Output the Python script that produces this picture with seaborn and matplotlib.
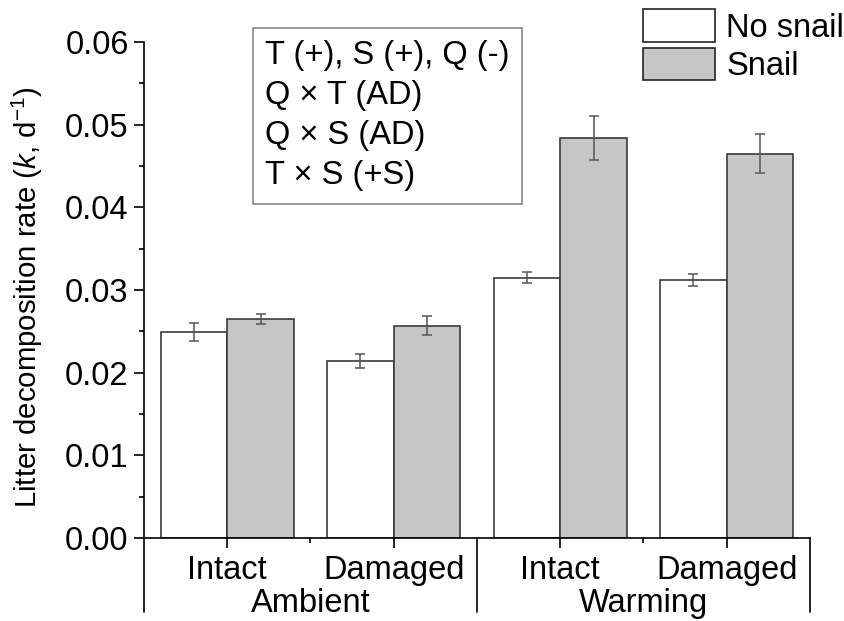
import matplotlib
matplotlib.use("Agg")
import matplotlib.pyplot as plt
import seaborn as sns
import pandas as pd
import numpy as np

# Data
conditions = ["Ambient-Intact", "Ambient-Damaged", "Warming-Intact", "Warming-Damaged"]
quality_labels = ["Intact", "Damaged", "Intact", "Damaged"]
temp_labels = ["Ambient", "Warming"]
snail_levels = ["No snail", "Snail"]
no_snail_mean = [0.0249, 0.0214, 0.0315, 0.0312]
no_snail_se = [0.0011, 0.00085, 0.0007, 0.0007]
snail_mean = [0.0265, 0.0257, 0.0484, 0.0465]
snail_se = [0.0006, 0.0012, 0.0027, 0.0024]
stats_lines = ["T (+), S (+), Q (-)", "Q \u00d7 T (AD)", "Q \u00d7 S (AD)", "T \u00d7 S (+S)"]

df = pd.DataFrame({
    "cond": conditions * 2,
    "snail": [snail_levels[0]] * 4 + [snail_levels[1]] * 4,
    "k": no_snail_mean + snail_mean,
    "se": no_snail_se + snail_se,
})

sns.set_style("ticks")
plt.rcParams["font.family"] = ["Liberation Sans", "DejaVu Sans"]
plt.rcParams["mathtext.fontset"] = "custom"
plt.rcParams["mathtext.rm"] = "Liberation Sans"
plt.rcParams["mathtext.it"] = "Liberation Sans:italic"
plt.rcParams["text.color"] = "black"
plt.rcParams["axes.labelcolor"] = "black"
plt.rcParams["xtick.color"] = "black"
plt.rcParams["ytick.color"] = "black"

FS = 23.5

fig = plt.figure(figsize=(8.44, 6.21), dpi=100)
ax = fig.add_axes([0.1706, 0.1337, 0.7891, 0.7987])

sns.barplot(data=df, x="cond", y="k", hue="snail", order=conditions,
            hue_order=snail_levels, palette=["white", "#c6c6c6"],
            edgecolor="#3a3a3a", linewidth=1.2, errorbar=None, width=0.8,
            ax=ax, legend=True)

# error bars, positioned on the drawn bars
bars = [p for p in ax.patches if p.get_height() > 0][:8]
for p, (_, row) in zip(bars, df.iterrows()):
    cx = p.get_x() + p.get_width() / 2
    ax.errorbar(cx, row["k"], yerr=row["se"], fmt="none", ecolor="#555555",
                elinewidth=1.1, capsize=3.8, capthick=1.1, zorder=5)

ax.set_xlim(-0.5, 3.5)
ax.set_ylim(0, 0.06)
ax.set_yticks(np.arange(0, 0.061, 0.01))
ax.set_yticklabels([f"{v:.2f}" for v in np.arange(0, 0.061, 0.01)])
ax.set_yticks(np.arange(0.005, 0.06, 0.01), minor=True)
ax.set_xticks(range(4))
ax.set_xticklabels(quality_labels)
ax.set_xticks([0.5, 2.5], minor=True)
ax.tick_params(axis="both", which="major", direction="out", length=7, width=1.2,
               labelsize=FS, colors="black", pad=4)
ax.tick_params(axis="x", which="major", pad=5)
ax.tick_params(axis="both", which="minor", direction="out", length=3.6, width=1.2)
for s in ["top", "right"]:
    ax.spines[s].set_visible(False)
for s in ["left", "bottom"]:
    ax.spines[s].set_linewidth(1.2)
    ax.spines[s].set_color("black")

ax.set_xlabel("")
ax.set_ylabel(r"Litter decomposition rate ($\mathit{k}$, d$^{-1}$)", fontsize=21.2)
ax.yaxis.set_label_coords(-0.148, 0.485)

# group separators and group labels
trans = ax.get_xaxis_transform()
for xs in [-0.5, 1.5, 3.5]:
    ax.plot([xs, xs], [0, -0.149], transform=trans, color="black", lw=1.2, clip_on=False)
for i, lab in enumerate(temp_labels):
    ax.text(0.5 + 2 * i, -0.133, lab, transform=trans, ha="center", va="center", fontsize=FS)

# stats text box
ax.text(0.182, 1.003, "\n".join(stats_lines), transform=ax.transAxes, ha="left", va="top",
        fontsize=FS, linespacing=1.37,
        bbox=dict(boxstyle="square,pad=0.38", facecolor="white", edgecolor="#888888", lw=1.2))

leg = ax.legend(loc="upper left", bbox_to_anchor=(0.749, 1.066), frameon=False, fontsize=FS,
                handlelength=2.2, handleheight=1.17, handletextpad=0.35, labelspacing=0.12,
                borderaxespad=0, borderpad=0)
for h in leg.legend_handles:
    h.set_edgecolor("#222222")

fig.savefig("out.png", dpi=100)
